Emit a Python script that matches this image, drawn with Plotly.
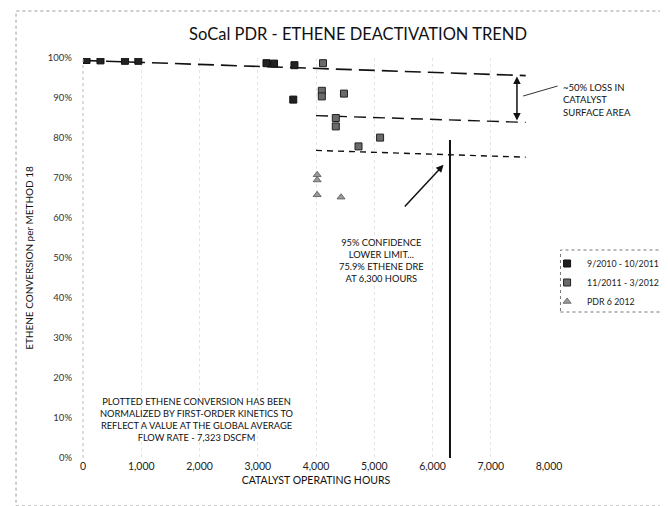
import plotly.graph_objects as go

# ---------------- data ----------------
S1_NAME = "9/2010 - 10/2011"
S1_HOURS = [60, 300, 720, 950, 3150, 3280, 3630, 3610]
S1_PCT = [99.5, 99.4, 99.3, 99.3, 98.7, 98.6, 98.2, 89.6]

S2_NAME = "11/2011 - 3/2012"
S2_HOURS = [4120, 4100, 4100, 4480, 4340, 4340, 4730, 5100]
S2_PCT = [98.7, 91.8, 90.4, 91.1, 85.0, 82.9, 77.9, 80.1]

S3_NAME = "PDR 6 2012"
S3_HOURS = [4020, 4020, 4020, 4430]
S3_PCT = [70.8, 69.5, 65.8, 65.2]

TREND_TOP_HOURS = [0, 7600]
TREND_TOP_PCT = [99.4, 95.6]
TREND_MID_HOURS = [4000, 7600]
TREND_MID_PCT = [85.6, 83.9]
TREND_LOW_HOURS = [4000, 7600]
TREND_LOW_PCT = [76.9, 75.2]

LIMIT_HOURS = 6300
LIMIT_TOP_PCT = 79.5

X_TICKS = [0, 1000, 2000, 3000, 4000, 5000, 6000, 7000, 8000]
X_TICK_LABELS = ["0", "1,000", "2,000", "3,000", "4,000", "5,000", "6,000", "7,000", "8,000"]
Y_TICKS = [0, 10, 20, 30, 40, 50, 60, 70, 80, 90, 100]
Y_TICK_LABELS = ["0%", "10%", "20%", "30%", "40%", "50%", "60%", "70%", "80%", "90%", "100%"]

FONT = "Lato"
W, H = 668, 506
L, R, T, B = 75, 106, 50, 56


def px(xpix):
    return (xpix - L) / (W - L - R)


def py(ypix):
    return (H - B - ypix) / (H - T - B)


fig = go.Figure()

# trend lines
fig.add_trace(go.Scatter(x=TREND_TOP_HOURS, y=TREND_TOP_PCT, mode="lines",
                         line=dict(color="#111", width=1.6, dash="16px,7px"),
                         showlegend=False, hoverinfo="skip"))
fig.add_trace(go.Scatter(x=TREND_MID_HOURS, y=TREND_MID_PCT, mode="lines",
                         line=dict(color="#111", width=1.4, dash="12px,7px"),
                         showlegend=False, hoverinfo="skip"))
fig.add_trace(go.Scatter(x=TREND_LOW_HOURS, y=TREND_LOW_PCT, mode="lines",
                         line=dict(color="#111", width=1.4, dash="6px,5px"),
                         showlegend=False, hoverinfo="skip"))
# vertical limit line
fig.add_trace(go.Scatter(x=[LIMIT_HOURS, LIMIT_HOURS], y=[0, LIMIT_TOP_PCT], mode="lines",
                         line=dict(color="#111", width=2),
                         showlegend=False, hoverinfo="skip"))

# data series
fig.add_trace(go.Scatter(x=S1_HOURS, y=S1_PCT, mode="markers", name=S1_NAME,
                         marker=dict(symbol="square", size=7, color="#222",
                                     line=dict(color="#111", width=1))))
fig.add_trace(go.Scatter(x=S2_HOURS, y=S2_PCT, mode="markers", name=S2_NAME,
                         marker=dict(symbol="square", size=7, color="#6a6a6a",
                                     line=dict(color="#222", width=1))))
fig.add_trace(go.Scatter(x=S3_HOURS, y=S3_PCT, mode="markers", name=S3_NAME,
                         marker=dict(symbol="triangle-up", size=7, color="#9a9a9a",
                                     line=dict(color="#555", width=0.8))))

NOTE_FONT = dict(family=FONT, size=9.3, color="#111")
annotations = [
    dict(text="PLOTTED ETHENE CONVERSION HAS BEEN<br>NORMALIZED BY FIRST-ORDER KINETICS TO<br>"
              "REFLECT A VALUE AT THE GLOBAL AVERAGE<br>FLOW RATE - 7,323 DSCFM",
         x=1940, y=9.6, xref="x", yref="y", showarrow=False,
         font=NOTE_FONT, align="center"),
    dict(text="95% CONFIDENCE<br>LOWER LIMIT...<br>75.9% ETHENE DRE<br>AT 6,300 HOURS",
         x=5120, y=49.3, xref="x", yref="y", showarrow=False,
         font=NOTE_FONT, align="center"),
    dict(text="", x=6190, y=73.3, xref="x", yref="y", ax=5500, ay=62.5,
         axref="x", ayref="y", showarrow=True, arrowhead=2, arrowsize=1,
         arrowwidth=1.5, arrowcolor="#111"),
    dict(text="", x=7450, y=95.4, xref="x", yref="y", ax=7450, ay=84.0,
         axref="x", ayref="y", showarrow=True, arrowhead=2, arrowside="end+start",
         arrowsize=1, arrowwidth=1.5, arrowcolor="#111", startarrowhead=2),
    dict(text="~50% LOSS IN<br>CATALYST<br>SURFACE AREA", x=px(575), y=py(72),
         xref="paper", yref="paper", xanchor="left", yanchor="top", showarrow=False,
         align="left", font=dict(family=FONT, size=9.5, color="#111")),
]

shapes = [
    # leader line from arrow to text
    dict(type="line", xref="paper", yref="paper", x0=px(535), y0=py(88), x1=px(571), y1=py(78),
         line=dict(color="#333", width=1)),
    # dotted y axis line
    dict(type="line", xref="paper", yref="paper", x0=0, y0=0, x1=0, y1=1,
         line=dict(color="#bbbbbb", width=1, dash="dot")),
    # outer dashed border (runs off the right edge)
    dict(type="rect", xref="paper", yref="paper", x0=px(5), y0=py(498), x1=px(720), y1=py(3),
         line=dict(color="#999", width=1, dash="dot")),
    # legend dashed box
    dict(type="rect", xref="paper", yref="paper", x0=px(574), y0=py(304), x1=px(690), y1=py(242),
         line=dict(color="#777", width=1, dash="dot")),
]

fig.update_layout(
    width=W, height=H,
    margin=dict(l=L, r=R, t=T, b=B, pad=0),
    paper_bgcolor="white", plot_bgcolor="white",
    font=dict(family=FONT, color="#222"),
    title=dict(text="SoCal PDR - ETHENE DEACTIVATION TREND", xref="container", x=350 / W,
               xanchor="center", y=1 - 26 / H, yanchor="middle",
               font=dict(family=FONT, size=16.5, color="#111")),
    xaxis=dict(range=[0, 8000], tickvals=X_TICKS, ticktext=X_TICK_LABELS,
               showgrid=True, gridcolor="#e4e4e4", griddash="dot", gridwidth=1,
               zeroline=False, showline=False, ticks="",
               tickfont=dict(family=FONT, size=10.5, color="#222"),
               title=dict(text="CATALYST OPERATING HOURS", standoff=6,
                          font=dict(family=FONT, size=10.5, color="#111"))),
    yaxis=dict(range=[0, 100], tickvals=Y_TICKS, ticktext=Y_TICK_LABELS,
               showgrid=False, zeroline=False, showline=False,
               ticks="", ticklabelstandoff=10,
               tickfont=dict(family=FONT, size=9.5, color="#333"),
               title=dict(text="ETHENE CONVERSION per METHOD 18", standoff=12,
                          font=dict(family=FONT, size=10, color="#111"))),
    legend=dict(x=px(560), y=py(241), xanchor="left", yanchor="top",
                font=dict(family=FONT, size=8.8, color="#222"),
                bgcolor="rgba(0,0,0,0)", borderwidth=0, tracegroupgap=0,
                itemwidth=30),
    annotations=annotations,
    shapes=shapes,
)

fig.write_html("out.html")
